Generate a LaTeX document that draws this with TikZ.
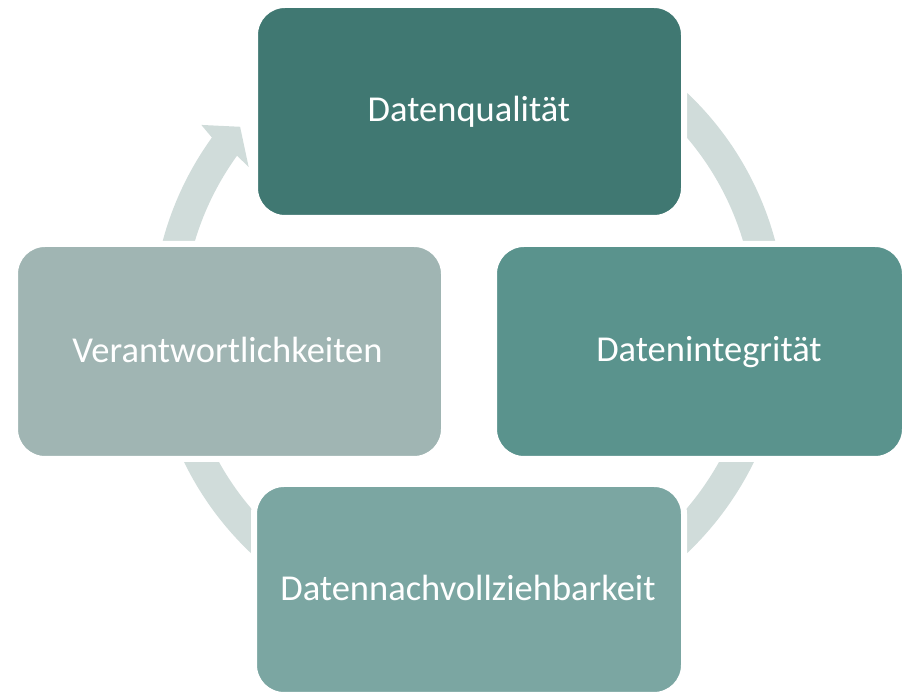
\documentclass[tikz,border=0pt]{standalone}
\usepackage{fontspec}
\setmainfont{Carlito}
\usetikzlibrary{calc}
\definecolor{cq}{HTML}{407872}
\definecolor{ci}{HTML}{5A938D}
\definecolor{cn}{HTML}{7BA6A2}
\definecolor{cv}{HTML}{A0B5B3}
\definecolor{cring}{HTML}{D0DCDA}
\tikzset{
  box/.style={draw=white, line width=6pt, rounded corners=30pt, inner sep=0pt, outer sep=0pt},
  lbl/.style={anchor=base, text=white, inner sep=0pt, font=\fontsize{36.5}{44}\selectfont},
}
\begin{document}
\begin{tikzpicture}[x=1pt,y=1pt]
\useasboundingbox (0,0) rectangle (904,692);
\coordinate (c) at (469,369);
% ring
\draw[cring, line width=31pt] ($(c)+(144:301.5)$) arc[start angle=144, end angle=450, radius=301.5];
\fill[cring] ($(c)+(144.2:317)$) -- ($(c)+(143.5:333)$) -- ($(c)+(139.4:301.5)$) -- ($(c)+(144.7:270)$) -- ($(c)+(144.2:286)$) -- cycle;
% boxes
\node[box, fill=cq, minimum width=429pt, minimum height=213pt] (q) at (469.5,580.5) {};
\node[box, fill=ci, minimum width=411pt, minimum height=215pt] (i) at (699.5,340.5) {};
\node[box, fill=cn, minimum width=430pt, minimum height=211pt] (n) at (469,102.5) {};
\node[box, fill=cv, minimum width=429pt, minimum height=215pt] (v) at (229.5,340.5) {};
% labels
\node[lbl] (qt) at (469,570) {Datenqualität};
\node[lbl] (it) at (709,330) {Datenintegrität};
\node[lbl] (nt) at (468,91) {Datennachvollziehbarkeit};
\node[lbl] (vt) at (227.5,329) {Verantwortlichkeiten};
\end{tikzpicture}
\end{document}
